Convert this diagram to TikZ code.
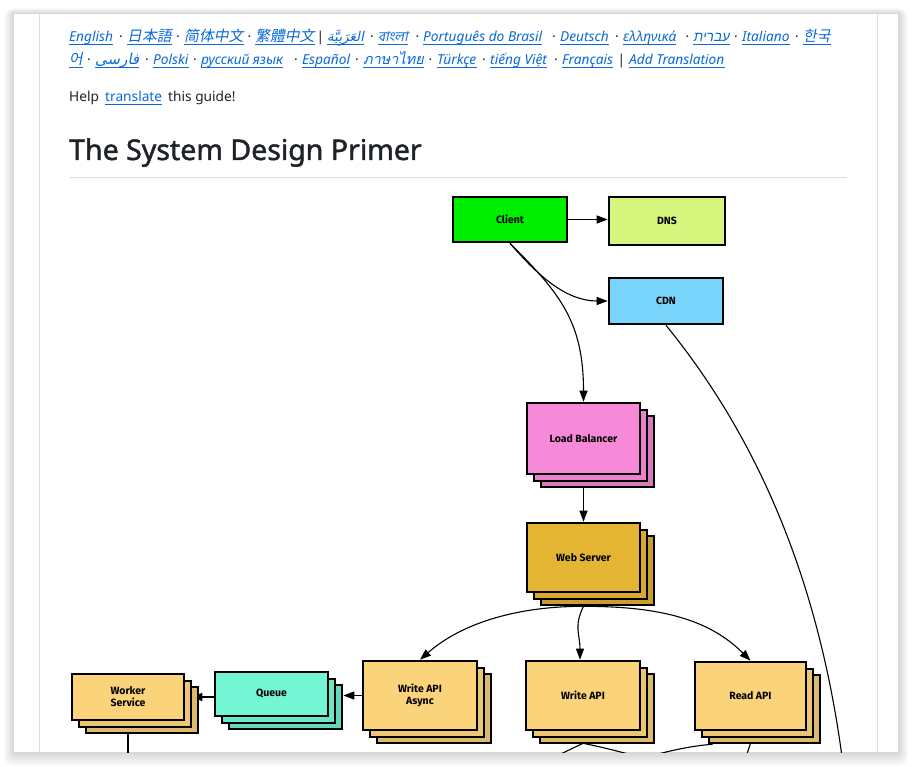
\documentclass[tikz,border=0pt]{standalone}
\usepackage{fontspec}
\setmainfont{Noto Sans}
\newfontfamily\titlefont[FakeBold=1.6]{Noto Sans}
\newfontfamily\jpfont[FakeSlant=0.2]{Noto Sans CJK JP}
\newfontfamily\scfont[FakeSlant=0.2]{Noto Sans CJK SC}
\newfontfamily\tcfont[FakeSlant=0.2]{Noto Sans CJK TC}
\newfontfamily\krfont[FakeSlant=0.2]{Noto Sans CJK KR}
\newfontfamily\arfont[Script=Arabic,FakeSlant=0.2]{DejaVu Sans}
\newfontfamily\hefont[Script=Hebrew,FakeSlant=0.2]{Liberation Sans}
\newfontfamily\bnfont[Script=Bengali,FakeSlant=0.2]{Hind Siliguri}
\newfontfamily\thfont[Script=Thai,FakeSlant=0.2]{Loma}
\newfontfamily\boxfont{Fira Sans}
\TeXXeTstate=1
\usetikzlibrary{arrows.meta,shadows}
\pgfdeclarelayer{bg}
\pgfdeclarelayer{edges}
\pgfsetlayers{bg,edges,main}

\definecolor{linkblue}{HTML}{0969DA}
\definecolor{ink}{HTML}{1F2328}
\definecolor{rulegray}{HTML}{D8DEE4}
\definecolor{clientgreen}{HTML}{00EE00}
\definecolor{dnsgreen}{HTML}{D6F57C}
\definecolor{cdnblue}{HTML}{78D4FA}
\definecolor{lbpink}{HTML}{F78AD8}
\definecolor{webgold}{HTML}{E3B532}
\definecolor{apiorange}{HTML}{FAD37A}
\definecolor{queueaqua}{HTML}{74F5D4}

\newcommand\linkfont{\fontsize{13.7}{16}\selectfont\itshape}
\newcommand\cjksize{\fontsize{14.8}{16}\selectfont}
% link text with its underline
\newcommand\lnk[5][]{%
  \node[link,#1] (#2) at (#3,#4) {#5};
  \draw[linkline] ([yshift=-2.6pt]#2.base west) -- ([yshift=-2.6pt]#2.base east);}

\begin{document}
\begin{tikzpicture}[x=1pt, y=-1pt,
    link/.style={anchor=base west, inner sep=0pt, text=linkblue, font=\linkfont},
    linkline/.style={draw=linkblue, line width=1pt},
    sep/.style={anchor=base, inner sep=0pt, text=ink, font=\fontsize{13.7}{16}\selectfont},
    box/.style={draw=black, line width=2.6pt, fill=#1, inner sep=2pt, align=center,
      font=\boxfont\bfseries\fontsize{10.5}{12}\selectfont},
    stack/.style={box=#1,
      copy shadow={shadow xshift=14pt, shadow yshift=-13pt, draw=black, line width=2.6pt, fill=#1!88!black},
      copy shadow={shadow xshift=7pt, shadow yshift=-7pt, draw=black, line width=2.6pt, fill=#1!94!black}},
    conn/.style={line width=1.1pt, -{Triangle[length=11pt, width=8pt]}},
    wire/.style={line width=1.1pt}]
  \useasboundingbox (0,0) rectangle (913,767);

  % Page and its shadow
  \begin{pgfonlayer}{bg}
    \fill[white] (0,0) rectangle (913,767);
    \foreach \i in {1,...,10}
      \fill[black, opacity=0.014, rounded corners=\i pt] (14-\i,14-0.6*\i) rectangle (898+\i,752+1.4*\i);
    \fill[white] (14,14) rectangle (898,752);
    \draw[rulegray, line width=1pt] (39.5,14) -- (39.5,752);
    \draw[rulegray, line width=1pt] (877,14) -- (877,752);
  \end{pgfonlayer}

  % Language links
  \lnk{en}{69}{42}{English}
  \lnk[font=\cjksize\jpfont\upshape]{ja}{127}{42}{日本語}
  \lnk[font=\cjksize\scfont\upshape]{zhs}{184}{42}{简体中文}
  \lnk[font=\cjksize\tcfont\upshape]{zht}{255}{42}{繁體中文}
  \lnk[font=\fontsize{13.5}{16}\selectfont\arfont\upshape]{ar}{327}{42}{\beginR العَرَبِيَّة\endR}
  \lnk[font=\fontsize{13.5}{16}\selectfont\bnfont\upshape]{bn}{378}{42}{বাংলা}
  \lnk{ptbr}{423}{42}{Português do Brasil}
  \lnk{de}{560}{42}{Deutsch}
  \lnk{el}{623}{42}{ελληνικά}
  \lnk[font=\fontsize{13.7}{16}\selectfont\hefont\upshape]{he}{693}{42}{\beginR עברית\endR}
  \lnk{it}{742}{42}{Italiano}
  \lnk[font=\cjksize\krfont\upshape]{ko}{803}{42}{한국}
  \lnk[font=\cjksize\krfont\upshape]{ko2}{69}{65}{어}
  \lnk[font=\fontsize{15}{16}\selectfont\arfont\upshape]{fa}{95}{65}{\beginR فارسی\endR}
  \lnk{pl}{153}{65}{Polski}
  \lnk{ru}{201}{65}{русский язык}
  \lnk{es}{302}{65}{Español}
  \lnk[font=\fontsize{14.5}{16}\selectfont\thfont\upshape]{th}{363}{65}{ภาษาไทย}
  \lnk{tr}{437}{65}{Türkçe}
  \lnk{vi}{490}{65}{tiếng Việt}
  \lnk{fr}{562}{65}{Français}
  \lnk{addtr}{629}{65}{Add Translation}
  \foreach \x [count=\i] in {121,178,249.5,372,417.5,554,617,687.5,736,797}
    \node[sep] (dotA\i) at (\x,42) {·};
  \foreach \x [count=\i] in {89,147,195,296,357,430.5,484,556}
    \node[sep] (dotB\i) at (\x,65) {·};
  \node[sep] (barA) at (320.5,42) {|};
  \node[sep] (barB) at (621.5,65) {|};

  % Help line and title
  \node[sep, anchor=base west] (help) at (69,101.5) {Help};
  \lnk[font=\fontsize{13.7}{16}\selectfont]{translate}{105}{101.5}{translate}
  \node[sep, anchor=base west] (guide) at (168,101.5) {this guide!};
  \node[anchor=base west, inner sep=0pt, text=ink, font=\fontsize{28.5}{32}\selectfont\titlefont] (title) at (69,160) {The System Design Primer};
  \draw[rulegray, line width=1pt] (69,177.5) -- (847,177.5);

  % Boxes
  \node[box=clientgreen, minimum width=114pt, minimum height=45pt] (client) at (510,219.5) {Client};
  \node[box=dnsgreen, minimum width=116pt, minimum height=48pt] (dns) at (667,221) {DNS};
  \node[box=cdnblue, minimum width=114pt, minimum height=46pt] (cdn) at (666,301) {CDN};
  \node[stack=lbpink, minimum width=113pt, minimum height=71pt] (lb) at (583.5,438.5) {Load Balancer};
  \node[stack=webgold, minimum width=113pt, minimum height=69pt] (web) at (583.5,557.5) {Web Server};
  \node[stack=apiorange, minimum width=112pt, minimum height=46pt] (worker) at (128,697) {Worker\\Service};
  \node[stack=queueaqua, minimum width=113pt, minimum height=44pt] (queue) at (271.5,694) {Queue};
  \node[stack=apiorange, minimum width=114pt, minimum height=69pt] (wasync) at (420,695.5) {Write API\\Async};
  \node[stack=apiorange, minimum width=114pt, minimum height=69pt] (wapi) at (583,695.5) {Write API};
  \node[stack=apiorange, minimum width=111pt, minimum height=68pt] (rapi) at (750.5,696) {Read API};

  % Free ends and helper points
  \coordinate (webout) at ([yshift=-13pt]web.south);
  \coordinate (wapiout) at ([yshift=-12pt]wapi.south);
  \coordinate (rapiout) at ([yshift=-12pt]rapi.south);
  \coordinate (rapiW) at ([xshift=-38pt, yshift=-13pt]rapi.south);
  \coordinate (qend) at ([xshift=14pt]queue.east);
  \coordinate (wend) at ([xshift=6pt]worker.east);
  \coordinate (objstore) at (846,790);
  \coordinate (workerdown) at (128,772);
  \coordinate (wapiL) at (523,772);
  \coordinate (wapiR) at (685,772);
  \coordinate (rapiD) at (741,772);
  \coordinate (rapiL) at (600,770);

  % Connectors
  \begin{pgfonlayer}{edges}
    \begin{scope}
      \clip (14,14) rectangle (898,752);
      \draw[conn] (client.east) -- (client.east -| dns.west);
      \draw[conn] (client.south) .. controls +(30,35) and +(-40,0) .. (cdn.west);
      \draw[conn] (client.south) .. controls +(50,50) and +(0,-80) .. (lb.north);
      \draw[conn] (lb.south) -- (web.north);
      \draw[conn] (webout) .. controls +(-70,0) and +(40,-35) .. (wasync.north);
      \draw[conn] (webout) .. controls +(-10,20) and +(0,-25) .. ([xshift=-3pt]wapi.north);
      \draw[conn] (webout) .. controls +(80,0) and +(-40,-40) .. (rapi.north);
      \draw[conn] (wasync.west) -- (qend |- wasync.west);
      \draw[conn] (queue.west |- worker.east) -- (wend);
      \draw[wire] (cdn.south) .. controls +(119,146) and +(-16,-150) .. (objstore);
      \draw[wire] (worker.south) -- (workerdown);
      \draw[wire] (wapiout) -- (wapiL);
      \draw[wire] (wapiout) .. controls +(20,4) and +(-40,-15) .. (wapiR);
      \draw[wire] (rapiout) -- (rapiD);
      \draw[wire] (rapiW) .. controls +(-40,3) and +(40,-10) .. (rapiL);
    \end{scope}
  \end{pgfonlayer}
\end{tikzpicture}
\end{document}
